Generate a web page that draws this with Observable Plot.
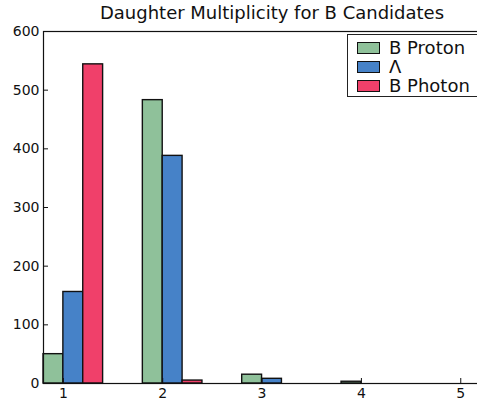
<!DOCTYPE html>
<html>
<head>
<meta charset="utf-8">
<script src="https://cdn.jsdelivr.net/npm/d3@7"></script>
<script src="https://cdn.jsdelivr.net/npm/@observablehq/plot@0.6"></script>
<style>
  html, body { margin: 0; padding: 0; overflow: hidden; background: #fff; }
  #wrap { position: relative; width: 500px; height: 404px; font-family: "DejaVu Sans", sans-serif; }
  #legend {
    position: absolute; left: 347px; top: 34px; width: 150px; height: 63px;
    border: 1px solid #222; background: #fff; box-sizing: border-box;
    padding: 3px 0 0 9px;
  }
  .row { display: flex; align-items: center; height: 19px; font-size: 18px; color: #111; }
  .sw { width: 23px; height: 12px; border: 1.5px solid #111; margin-right: 9px; box-sizing: border-box; }
</style>
</head>
<body>
<div id="wrap"></div>
<script>
// Number of daughters per candidate
const multiplicity = [1, 2, 3, 4, 5];
const series = ["B Proton", "Λ", "B Photon"];
const colors = ["#8fc19a", "#4682c8", "#f0406a"];
const protonCounts = [50, 483, 15, 3, 0];
const lambdaCounts = [156, 388, 8, 0, 0];
const photonCounts = [544, 5, 0, 0, 0];
const yTicks = [0, 100, 200, 300, 400, 500, 600];

const counts = [protonCounts, lambdaCounts, photonCounts];
const barWidth = 0.2;
const bars = [];
series.forEach((name, s) => {
  multiplicity.forEach((m, i) => {
    const x1 = m - barWidth + s * barWidth;
    bars.push({series: name, x1, x2: x1 + barWidth, count: counts[s][i]});
  });
});

const chart = Plot.plot({
  width: 500,
  height: 404,
  marginLeft: 43,
  marginRight: 0,
  marginTop: 31,
  marginBottom: 21,
  style: {fontFamily: "DejaVu Sans, sans-serif", fontSize: "14px", color: "#111", background: "#fff"},
  x: {domain: [0.8, 5.4]},
  y: {domain: [0, 600]},
  color: {domain: series, range: colors},
  marks: [
    Plot.rectY(bars, {x1: "x1", x2: "x2", y: "count", fill: "series", stroke: "#111", strokeWidth: 1.4}),
    Plot.frame({stroke: "#111", strokeWidth: 1.2}),
    Plot.axisY(yTicks, {tickSize: -5, tickPadding: 9, label: null, fontSize: 14, stroke: "#111"}),
    Plot.axisX(multiplicity, {tickSize: -5, tickPadding: 10, label: null, fontSize: 14, tickFormat: d => String(d), stroke: "#111"}),
    Plot.text(["Daughter Multiplicity for B Candidates"], {
      frameAnchor: "top", dy: -18, fontSize: 18, fill: "#111", lineAnchor: "middle"
    })
  ]
});

const wrap = document.getElementById("wrap");
wrap.appendChild(chart);

const legend = document.createElement("div");
legend.id = "legend";
series.forEach((name, s) => {
  const row = document.createElement("div");
  row.className = "row";
  const sw = document.createElement("span");
  sw.className = "sw";
  sw.style.background = colors[s];
  const label = document.createElement("span");
  label.textContent = name;
  row.appendChild(sw);
  row.appendChild(label);
  legend.appendChild(row);
});
wrap.appendChild(legend);
</script>
</body>
</html>
